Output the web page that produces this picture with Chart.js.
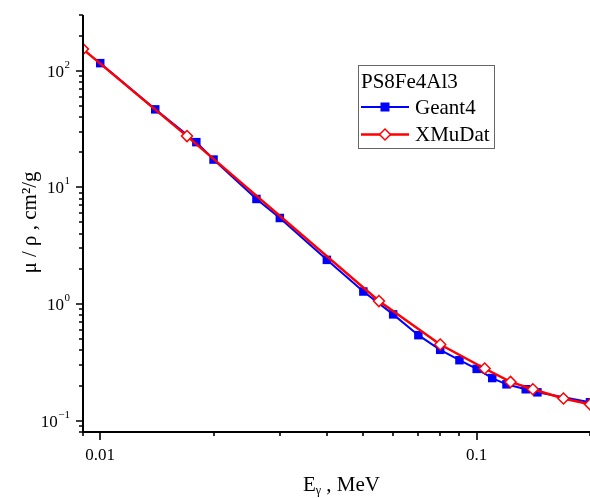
<!DOCTYPE html>
<html lang="en">
<head>
<meta charset="UTF-8">
<title>PS8Fe4Al3 mass attenuation</title>
<script src="https://cdn.jsdelivr.net/npm/chart.js"></script>
<style>
  html, body { margin: 0; padding: 0; background: #fff; overflow: hidden; }
  #wrap { width: 590px; height: 498px; }
  canvas { display: block; }
</style>
</head>
<body>
<div id="wrap"><canvas id="muChart" width="590" height="498"></canvas></div>
<script>
// photon energy (MeV) vs mass attenuation coefficient (cm2/g)
const geantE  = [0.01, 0.014, 0.018, 0.02, 0.026, 0.03, 0.04, 0.05, 0.06, 0.07, 0.08, 0.09, 0.1, 0.11, 0.12, 0.135, 0.145, 0.2];
const geantMu = [116, 46.6, 24.4, 17.3, 7.95, 5.46, 2.39, 1.28, 0.815, 0.541, 0.405, 0.33, 0.278, 0.232, 0.205, 0.186, 0.175, 0.144];
const xmuE  = [0.009, 0.017, 0.055, 0.08, 0.105, 0.123, 0.141, 0.17, 0.2];
const xmuMu = [153, 27.5, 1.06, 0.45, 0.28, 0.215, 0.186, 0.155, 0.138];

const xTicks = [0.01, 0.1];
const xTickLabels = ['0.01', '0.1'];
const yTicks = [0.1, 1, 10, 100];
const yTickExp = ['\u22121', '0', '1', '2'];

const legendTitle = 'PS8Fe4Al3';
const serif = '"Liberation Serif", "Times New Roman", serif';

function toPoints(xs, ys) {
    return xs.map((v, i) => ({ x: v, y: ys[i] }));
}

// minor tick values 1..9 x 10^n inside [min, max]
function logTicks(min, max) {
    let out = [];
    for (let p = Math.floor(Math.log10(min)); p <= Math.ceil(Math.log10(max)); p++) {
        for (let k = 1; k <= 9; k++) {
            let v = k * Math.pow(10, p);
            if (v >= min * 0.999 && v <= max * 1.001) out.push({ v: v, major: k === 1 });
        }
    }
    return out;
}

// axes, ticks, labels and titles drawn in the Origin style
const originAxes = {
    id: 'originAxes',
    afterDraw(chart) {
        const { ctx, chartArea: a, scales: { x, y } } = chart;
        ctx.save();
        ctx.strokeStyle = '#000';
        ctx.fillStyle = '#000';
        ctx.lineWidth = 2;

        ctx.beginPath();
        ctx.moveTo(a.left, a.top);
        ctx.lineTo(a.left, a.bottom);
        ctx.lineTo(a.right, a.bottom);
        ctx.stroke();

        ctx.lineWidth = 1.6;
        ctx.beginPath();
        logTicks(x.min, x.max).forEach(t => {
            let px = Math.round(x.getPixelForValue(t.v));
            ctx.moveTo(px, a.bottom);
            ctx.lineTo(px, a.bottom + (t.major ? 8 : 4));
        });
        logTicks(y.min, y.max).forEach(t => {
            let py = Math.round(y.getPixelForValue(t.v));
            ctx.moveTo(a.left, py);
            ctx.lineTo(a.left - (t.major ? 7 : 4), py);
        });
        ctx.stroke();

        // x tick labels
        ctx.font = '17px ' + serif;
        ctx.textAlign = 'center';
        ctx.textBaseline = 'alphabetic';
        xTicks.forEach((v, i) => {
            ctx.fillText(xTickLabels[i], x.getPixelForValue(v), a.bottom + 28);
        });

        // y tick labels 10^n
        yTicks.forEach((v, i) => {
            let py = y.getPixelForValue(v);
            let right = a.left - 13;
            ctx.font = '11px ' + serif;
            ctx.textAlign = 'right';
            ctx.fillText(yTickExp[i], right, py - 3);
            let ew = ctx.measureText(yTickExp[i]).width;
            ctx.font = '17px ' + serif;
            ctx.fillText('10', right - ew - 0.5, py + 6);
        });

        // y title
        ctx.save();
        ctx.translate(36, (a.top + a.bottom) / 2 - 1);
        ctx.rotate(-Math.PI / 2);
        ctx.font = '21px ' + serif;
        ctx.textAlign = 'center';
        ctx.fillText('\u03bc / \u03c1 , cm\u00b2/g', 0, 0);
        ctx.restore();

        // x title E_gamma , MeV
        ctx.textAlign = 'left';
        ctx.font = '21px ' + serif;
        let wE = ctx.measureText('E').width;
        let wRest = ctx.measureText(' , MeV').width;
        ctx.font = '12px ' + serif;
        let wG = ctx.measureText('\u03b3').width;
        let cx = (a.left + a.right) / 2 + 5;
        let sx = cx - (wE + wG + wRest) / 2;
        let by = a.bottom + 59;
        ctx.font = '21px ' + serif;
        ctx.fillText('E', sx, by);
        ctx.font = '12px ' + serif;
        ctx.fillText('\u03b3', sx + wE, by + 3);
        ctx.font = '21px ' + serif;
        ctx.fillText(' , MeV', sx + wE + wG, by);

        // legend box
        const lx = a.right - 232, ly = a.top + 50, lw = 136, lh = 83;
        ctx.lineWidth = 1;
        ctx.strokeStyle = '#666';
        ctx.strokeRect(lx + 0.5, ly + 0.5, lw, lh);
        ctx.fillStyle = '#000';
        ctx.font = '21px ' + serif;
        ctx.fillText(legendTitle, lx + 3, ly + 23);
        chart.data.datasets.forEach((ds, i) => {
            let ry = ly + 42 + i * 27.5;
            ctx.strokeStyle = ds.borderColor;
            ctx.lineWidth = ds.borderWidth;
            ctx.beginPath();
            ctx.moveTo(lx + 3, ry);
            ctx.lineTo(lx + 51, ry);
            ctx.stroke();
            let mx = lx + 27;
            ctx.lineWidth = ds.pointBorderWidth;
            ctx.fillStyle = ds.pointBackgroundColor;
            ctx.strokeStyle = ds.pointBorderColor;
            ctx.beginPath();
            if (ds.pointStyle === 'rect') {
                ctx.rect(mx - 4.5, ry - 4.5, 9, 9);
                ctx.fill();
            } else {
                let r = ds.pointRadius;
                ctx.moveTo(mx - r, ry);
                ctx.lineTo(mx, ry - r);
                ctx.lineTo(mx + r, ry);
                ctx.lineTo(mx, ry + r);
                ctx.closePath();
                ctx.fill();
                ctx.stroke();
            }
            ctx.fillStyle = '#000';
            ctx.textBaseline = 'middle';
            ctx.fillText(ds.label, lx + 57, ry + 1);
            ctx.textBaseline = 'alphabetic';
        });
        ctx.restore();
    }
};

new Chart(document.getElementById('muChart').getContext('2d'), {
    type: 'line',
    data: {
        datasets: [{
            label: 'Geant4',
            data: toPoints(geantE, geantMu),
            borderColor: '#0000ff',
            borderWidth: 2,
            pointStyle: 'rect',
            pointRadius: 6,
            pointBackgroundColor: '#0000ff',
            pointBorderColor: '#0000ff',
            pointBorderWidth: 0,
            tension: 0,
            order: 2
        }, {
            label: 'XMuDat',
            data: toPoints(xmuE, xmuMu),
            borderColor: '#ff0000',
            borderWidth: 2.5,
            pointStyle: 'rectRot',
            pointRadius: 5.5,
            pointBackgroundColor: '#ffffff',
            pointBorderColor: '#ff0000',
            pointBorderWidth: 1.5,
            tension: 0,
            order: 1
        }]
    },
    options: {
        responsive: false,
        animation: false,
        layout: { autoPadding: false, padding: { left: 83, top: 15, right: 0, bottom: 66 } },
        plugins: { legend: { display: false }, tooltip: { enabled: false } },
        scales: {
            x: { type: 'logarithmic', min: 0.009, max: 0.2, display: false },
            y: { type: 'logarithmic', min: 0.08, max: 300, display: false }
        }
    },
    plugins: [originAxes]
});
</script>
</body>
</html>
